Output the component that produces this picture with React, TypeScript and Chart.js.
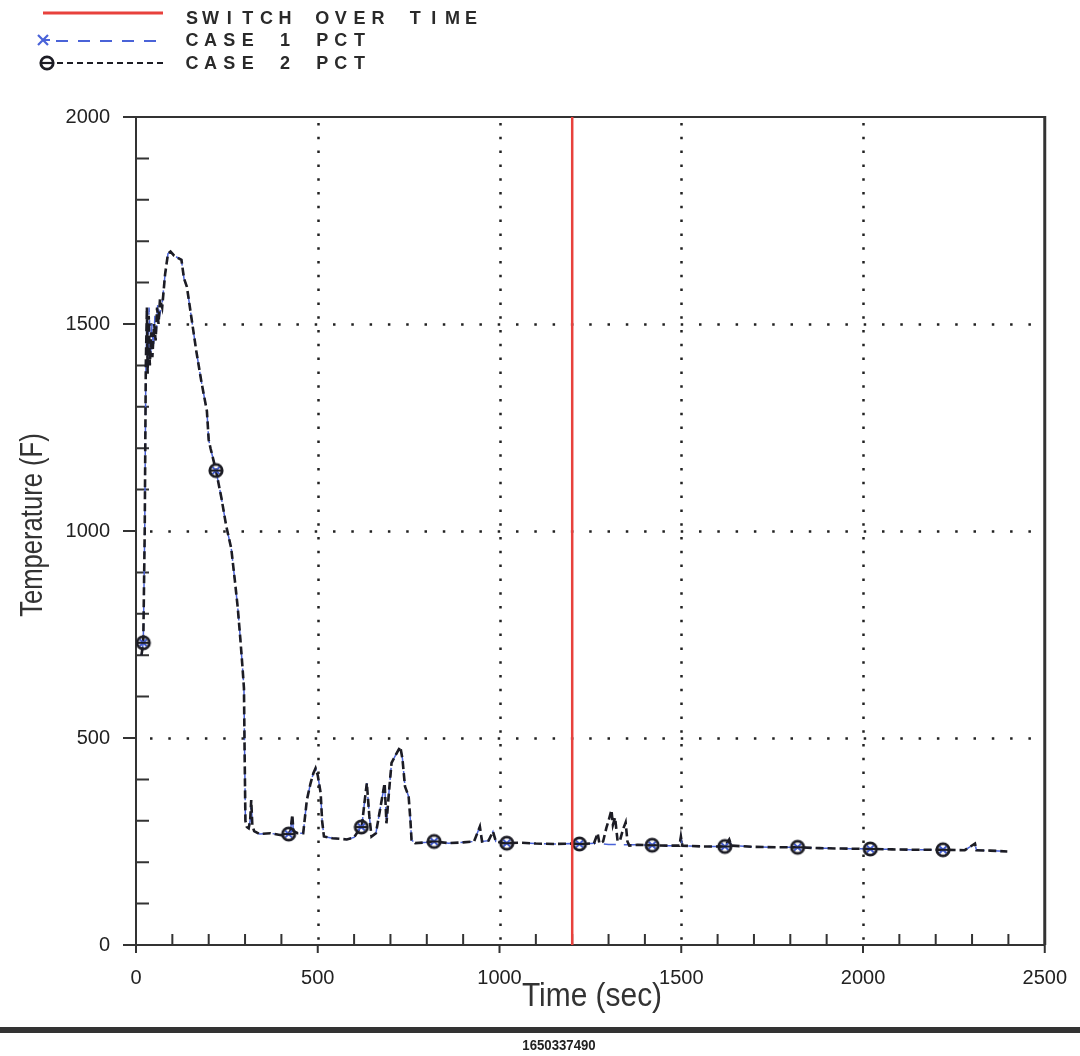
import React, { useEffect, useRef } from 'react';
import { Chart, registerables } from 'chart.js';

Chart.register(...registerables);

// ---------------- data ----------------
const xTickValues = [0, 500, 1000, 1500, 2000, 2500];
const yTickValues = [0, 500, 1000, 1500, 2000];
const minorStep = 100;
const switchOverTime = 1200;

const legendLabels = ['SWITCH OVER TIME', 'CASE 1 PCT', 'CASE 2 PCT'];
const xTitle = 'Time (sec)';
const yTitle = 'Temperature (F)';
const footerText = '1650337490';

const case2Time = [15, 20, 24, 27, 30, 32, 35, 38, 42, 45, 50, 54, 58, 62, 66, 72, 80,
  88, 95, 105, 115, 125, 132, 140, 150, 166, 180, 195, 200, 205, 220, 235, 248, 262, 272, 280, 287, 293, 297, 299, 301, 305, 310, 314, 317, 320, 325, 340, 370, 400, 418, 425, 430, 433, 445, 460, 470, 480, 488, 494, 500, 508, 512, 517, 540, 580, 600, 615, 621, 628, 635, 642, 648, 660, 672, 684, 689, 696, 703, 715, 727, 733, 740, 750, 755, 758, 768, 800, 823, 860, 900, 930, 946, 952, 970, 982, 990, 1014, 1060, 1100, 1150, 1200, 1230, 1260,
  1270, 1275, 1285, 1294, 1300, 1308, 1312, 1318, 1325, 1332, 1340, 1347, 1352, 1357,
  1380, 1420, 1460, 1495, 1499, 1503, 1560, 1620, 1632, 1638, 1700, 1760, 1820, 1880, 1940, 2020, 2080, 2140, 2220, 2280, 2308, 2312, 2350, 2397];
const case2Temp = [700, 730, 1000, 1400, 1540, 1380, 1520, 1400, 1480, 1420, 1500, 1460, 1540, 1500, 1560, 1540, 1620,
  1670, 1675, 1665, 1660, 1655, 1610, 1590, 1530, 1434, 1360, 1290, 1220, 1200, 1146, 1080, 1013, 958, 880, 814, 740, 670, 620, 450, 300, 285, 282, 300, 350, 290, 275, 268, 270, 265, 268, 275, 315, 275, 270, 270, 350, 390, 415, 427, 410, 367, 300, 262, 258, 255, 260, 280, 285, 340, 391, 310, 262, 270, 330, 391, 294, 370, 440, 460, 479, 450, 383, 359, 300, 254, 246, 248, 250, 246, 248, 250, 286, 250, 252, 274, 250, 246, 247, 245, 244, 245, 244, 246,
  270, 245, 250, 283, 300, 326, 290, 308, 250, 254, 280, 296, 250, 240,
  242, 241, 240, 240, 262, 240, 238, 238, 255, 240, 237, 236, 236, 234, 233, 232, 231, 230, 230, 229, 245, 229, 228, 226];

const case1Time = [15, 20, 24, 27, 30, 33, 36, 40, 44, 48, 52, 56, 60, 65, 72, 80,
  88, 95, 105, 115, 125, 132, 140, 150, 166, 180, 195, 200, 205, 220, 235, 248, 262, 272, 280, 287, 293, 297, 299, 301, 305, 310, 314, 317, 320, 325, 340, 370, 400, 418, 425, 430, 433, 445, 460, 470, 480, 488, 494, 500, 508, 512, 517, 540, 580, 600, 615, 621, 628, 635, 642, 648, 660, 672, 684, 689, 696, 703, 715, 727, 733, 740, 750, 755, 758, 768, 800, 823, 860, 900, 930, 946, 952, 970, 982, 990, 1014, 1060, 1100, 1150, 1200, 1230, 1260,
  1300, 1340,
  1380, 1420, 1460, 1495, 1499, 1503, 1560, 1620, 1632, 1638, 1700, 1760, 1820, 1880, 1940, 2020, 2080, 2140, 2220, 2280, 2308, 2312, 2350, 2397];
const case1Temp = [700, 730, 1000, 1380, 1520, 1400, 1540, 1420, 1500, 1440, 1520, 1480, 1550, 1520, 1550, 1620,
  1670, 1675, 1665, 1660, 1655, 1610, 1590, 1530, 1434, 1360, 1290, 1220, 1200, 1146, 1080, 1013, 958, 880, 814, 740, 670, 620, 450, 300, 285, 282, 300, 350, 290, 275, 268, 270, 265, 268, 275, 315, 275, 270, 270, 350, 390, 415, 427, 410, 367, 300, 262, 258, 255, 260, 280, 285, 340, 391, 310, 262, 270, 330, 391, 294, 370, 440, 460, 479, 450, 383, 359, 300, 254, 246, 248, 250, 246, 248, 250, 286, 250, 252, 274, 250, 246, 247, 245, 244, 245, 244, 246,
  243, 242,
  242, 241, 240, 240, 262, 240, 238, 238, 255, 240, 237, 236, 236, 234, 233, 232, 231, 230, 230, 229, 245, 229, 228, 226];

const markerTime = [20, 220, 420, 620, 820, 1020, 1220, 1420, 1620, 1820, 2020, 2220];
const case2MarkerTemp = [730, 1146, 268, 285, 250, 246, 244, 241, 238, 236, 232, 230];
const case1MarkerTemp = [730, 1146, 268, 285, 250, 246, 244, 241, 238, 236, 232, 230];

// ---------------- styles ----------------
const RED = '#e8413c';
const BLUE = '#4a63d8';
const BLACK = '#1c1c24';
const FRAME = '#333333';
const SANS = '"Liberation Sans", Arial, Helvetica, sans-serif';

let thetaMarker: HTMLCanvasElement | null = null;
function getThetaMarker(): HTMLCanvasElement {
  if (thetaMarker) return thetaMarker;
  const c = document.createElement('canvas');
  c.width = 18; c.height = 18;
  const g = c.getContext('2d')!;
  g.strokeStyle = BLACK;
  g.lineWidth = 2.8;
  g.beginPath();
  g.arc(9, 9, 6.2, 0, Math.PI * 2);
  g.stroke();
  g.lineWidth = 2.2;
  g.beginPath();
  g.moveTo(4, 9); g.lineTo(14, 9);
  g.stroke();
  thetaMarker = c;
  return c;
}

const framePlugin = {
  id: 'framePlugin',
  beforeDatasetsDraw(chart: any) {
    const { ctx, chartArea: a, scales } = chart;
    const x = scales.x, y = scales.y;
    ctx.save();
    // dotted grid
    ctx.strokeStyle = '#222';
    ctx.lineWidth = 2.5;
    ctx.setLineDash([2.5, 15.8]);
    yTickValues.forEach((v) => {
      if (v === y.min || v === y.max) return;
      const py = Math.round(y.getPixelForValue(v)) + 0.5;
      ctx.beginPath(); ctx.moveTo(a.left + 14, py); ctx.lineTo(a.right - 8, py); ctx.stroke();
    });
    ctx.setLineDash([2.5, 11.3]);
    xTickValues.forEach((v) => {
      if (v === x.min || v === x.max) return;
      const px = Math.round(x.getPixelForValue(v)) + 0.5;
      ctx.beginPath(); ctx.moveTo(px, a.top + 6); ctx.lineTo(px, a.bottom); ctx.stroke();
    });
    ctx.setLineDash([]);
    // frame
    ctx.strokeStyle = FRAME;
    ctx.lineWidth = 2;
    ctx.beginPath();
    ctx.moveTo(a.left, a.top); ctx.lineTo(a.right, a.top);
    ctx.moveTo(a.left, a.top); ctx.lineTo(a.left, a.bottom);
    ctx.moveTo(a.left, a.bottom); ctx.lineTo(a.right, a.bottom);
    ctx.stroke();
    ctx.lineWidth = 3;
    ctx.beginPath(); ctx.moveTo(a.right, a.top - 1); ctx.lineTo(a.right, a.bottom); ctx.stroke();
    // ticks
    ctx.lineWidth = 2;
    ctx.beginPath();
    for (let v = x.min; v <= x.max; v += minorStep) {
      const px = x.getPixelForValue(v);
      if (v % 500 === 0) { ctx.moveTo(px, a.bottom); ctx.lineTo(px, a.bottom + 8); }
      else { ctx.moveTo(px, a.bottom); ctx.lineTo(px, a.bottom - 11); }
    }
    for (let v = y.min; v <= y.max; v += minorStep) {
      const py = y.getPixelForValue(v);
      if (v % 500 === 0) { ctx.moveTo(a.left, py); ctx.lineTo(a.left - 13, py); }
      else { ctx.moveTo(a.left, py); ctx.lineTo(a.left + 13, py); }
    }
    ctx.stroke();
    ctx.restore();
  },
  afterDraw(chart: any) {
    const { ctx } = chart;
    const theta = getThetaMarker();
    ctx.save();
    // legend
    const rows = [18, 40, 63];
    ctx.strokeStyle = RED; ctx.lineWidth = 3;
    ctx.beginPath(); ctx.moveTo(43, 13); ctx.lineTo(163, 13); ctx.stroke();
    ctx.strokeStyle = BLUE; ctx.lineWidth = 2.2;
    ctx.beginPath();
    ctx.moveTo(38, 35); ctx.lineTo(48, 45); ctx.moveTo(48, 35); ctx.lineTo(38, 45);
    ctx.moveTo(43, 40); ctx.lineTo(50, 40);
    ctx.stroke();
    ctx.setLineDash([12, 10]);
    ctx.beginPath(); ctx.moveTo(56, 41); ctx.lineTo(163, 41); ctx.stroke();
    ctx.setLineDash([]);
    ctx.drawImage(theta, 38, 54);
    ctx.strokeStyle = BLACK; ctx.lineWidth = 2;
    ctx.setLineDash([6, 4]);
    ctx.beginPath(); ctx.moveTo(57, 63); ctx.lineTo(163, 63); ctx.stroke();
    ctx.setLineDash([]);
    ctx.fillStyle = '#2a2a2a';
    ctx.font = `bold 18px ${SANS}`;
    ctx.textAlign = 'center';
    ctx.textBaseline = 'middle';
    legendLabels.forEach((label, r) => {
      for (let i = 0; i < label.length; i++) {
        ctx.fillText(label[i], 192 + i * 18.6, rows[r] + 1);
      }
    });
    // axis titles
    ctx.fillStyle = '#333';
    ctx.textBaseline = 'alphabetic';
    ctx.font = `34px ${SANS}`;
    ctx.save();
    ctx.translate(592, 1006);
    ctx.scale(0.88, 1);
    ctx.fillText(xTitle, 0, 0);
    ctx.restore();
    ctx.font = `32px ${SANS}`;
    ctx.save();
    ctx.translate(42, 525);
    ctx.rotate(-Math.PI / 2);
    ctx.scale(0.8, 1);
    ctx.fillText(yTitle, 0, 0);
    ctx.restore();
    // footer bar + id
    ctx.fillStyle = '#333';
    ctx.fillRect(0, 1027, 1080, 6);
    ctx.fillStyle = '#222';
    ctx.font = `bold 15px ${SANS}`;
    ctx.save();
    ctx.translate(559, 1050);
    ctx.scale(0.88, 1);
    ctx.fillText(footerText, 0, 0);
    ctx.restore();
    ctx.restore();
  },
};

export default function App() {
  const ref = useRef<HTMLCanvasElement | null>(null);

  useEffect(() => {
    document.body.style.margin = '0';
    const canvas = ref.current!;
    const theta = getThetaMarker();
    const toXY = (xs: number[], ys: number[]) => xs.map((t, i) => ({ x: t, y: ys[i] }));

    const chart = new Chart(canvas, {
      type: 'scatter',
      data: {
        datasets: [
          {
            label: 'SWITCH OVER TIME',
            data: [{ x: switchOverTime, y: 0 }, { x: switchOverTime, y: 2000 }],
            showLine: true,
            borderColor: RED,
            borderWidth: 2.5,
            pointRadius: 0,
          },
          {
            label: 'CASE 2 markers',
            data: toXY(markerTime, case2MarkerTemp),
            showLine: false,
            pointStyle: theta as any,
            pointRadius: 7,
          },
          {
            label: 'CASE 1 markers',
            data: toXY(markerTime, case1MarkerTemp),
            showLine: false,
            pointStyle: 'crossRot',
            pointRadius: 5,
            borderColor: BLUE,
            borderWidth: 2,
          },
          {
            label: 'CASE 2 PCT',
            data: toXY(case2Time, case2Temp),
            showLine: true,
            borderColor: BLACK,
            borderWidth: 2.6,
            borderDash: [8, 4],
            pointRadius: 0,
            tension: 0,
          },
          {
            label: 'CASE 1 PCT',
            data: toXY(case1Time, case1Temp),
            showLine: true,
            borderColor: BLUE,
            borderWidth: 1.5,
            borderDash: [12, 8],
            pointRadius: 0,
            tension: 0,
          },
        ],
      },
      options: {
        animation: false,
        responsive: false,
        devicePixelRatio: 1,
        events: [],
        layout: { padding: { left: 0, right: 30, top: 117, bottom: 0 } },
        plugins: { legend: { display: false }, tooltip: { enabled: false } },
        scales: {
          x: {
            type: 'linear',
            min: 0,
            max: 2500,
            grid: { display: false },
            border: { display: false },
            afterFit: (s: any) => { s.height = 111; },
            afterBuildTicks: (s: any) => { s.ticks = xTickValues.map((v) => ({ value: v })); },
            ticks: {
              autoSkip: false,
              maxRotation: 0,
              minRotation: 0,
              padding: 13,
              color: '#222',
              font: { family: SANS, size: 20 },
              callback: (v: any) => String(v),
            },
          },
          y: {
            type: 'linear',
            min: 0,
            max: 2000,
            grid: { display: false },
            border: { display: false },
            afterFit: (s: any) => { s.width = 136; },
            afterBuildTicks: (s: any) => { s.ticks = yTickValues.map((v) => ({ value: v })); },
            ticks: {
              autoSkip: false,
              padding: 18,
              color: '#222',
              font: { family: SANS, size: 20 },
              callback: (v: any) => String(v),
            },
          },
        },
      },
      plugins: [framePlugin],
    });

    return () => chart.destroy();
  }, []);

  return (
    <div style={{ position: 'absolute', left: 0, top: 0, width: 1080, height: 1056, background: '#fff' }}>
      <canvas ref={ref} width={1080} height={1056} style={{ width: 1080, height: 1056, display: 'block' }} />
    </div>
  );
}
